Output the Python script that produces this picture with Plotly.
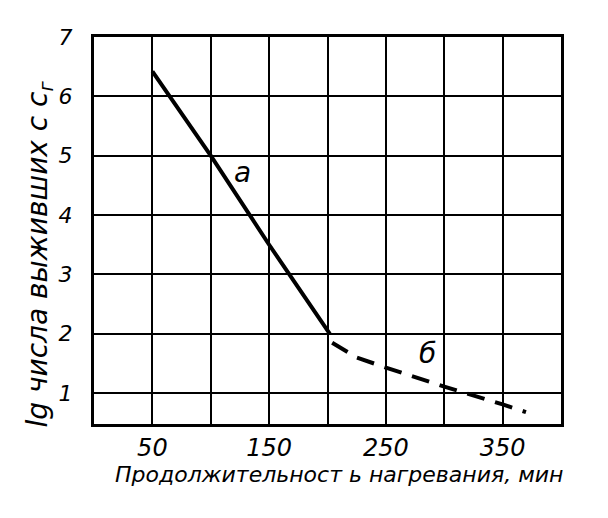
import plotly.graph_objects as go

# Data
curve_a_x = [50, 100, 150, 202]
curve_a_y = [6.42, 5.0, 3.5, 2.0]
curve_b_x = [204, 225, 250, 300, 350, 370]
curve_b_y = [1.85, 1.6, 1.43, 1.11, 0.81, 0.68]

x_tick_vals = [50, 150, 250, 350]
x_tick_text = ["50", "150", "250", "350"]
x_minor_vals = [0, 100, 200, 300, 400]
y_tick_vals = [1, 2, 3, 4, 5, 6, 7]
y_tick_text = ["1", "2", "3", "4", "5", "6", "7"]

x_title = "Продолжительност ь нагревания, мин"
y_title = "lg числа выживших с с<sub>г</sub>"

label_names = ["а", "б"]
label_x = [127, 286]
label_y = [4.72, 1.66]

FONT = "DejaVu Sans, sans-serif"

fig = go.Figure()
fig.add_trace(go.Scatter(x=curve_a_x, y=curve_a_y, mode="lines",
                         line=dict(color="black", width=4), showlegend=False))
fig.add_trace(go.Scatter(x=curve_b_x, y=curve_b_y, mode="lines",
                         line=dict(color="black", width=4, dash="18px,11px"),
                         showlegend=False))

for name, lx, ly in zip(label_names, label_x, label_y):
    fig.add_annotation(x=lx, y=ly, text=name, showarrow=False,
                       font=dict(family=FONT, size=28, color="black", style="italic"))

# axis titles placed as annotations for exact positioning
fig.add_annotation(xref="paper", yref="paper", x=0.525, y=-0.13,
                   text=x_title, showarrow=False, xanchor="center", yanchor="middle",
                   font=dict(family=FONT, size=22, color="black", style="italic"))
fig.add_annotation(xref="paper", yref="paper", x=-0.116, y=0.44,
                   text=y_title, showarrow=False, textangle=-90,
                   xanchor="center", yanchor="middle",
                   font=dict(family=FONT, size=28, color="black", style="italic"))

fig.update_layout(
    width=592, height=502,
    margin=dict(l=86, r=39, t=29, b=86),
    paper_bgcolor="white", plot_bgcolor="white",
    font=dict(family=FONT, color="black", style="italic"),
    xaxis=dict(
        range=[0, 400], tickvals=x_tick_vals, ticktext=x_tick_text,
        showgrid=True, gridcolor="black", gridwidth=2,
        minor=dict(tickvals=x_minor_vals, showgrid=True, gridcolor="black",
                   gridwidth=2, ticks=""),
        showline=True, linecolor="black", linewidth=3, mirror=True,
        ticks="",
        tickfont=dict(size=24, family=FONT, style="italic"),
        zeroline=False, automargin=False,
    ),
    yaxis=dict(
        range=[0.48, 7], tickvals=y_tick_vals, ticktext=y_tick_text,
        showgrid=True, gridcolor="black", gridwidth=2,
        showline=True, linecolor="black", linewidth=3, mirror=True,
        ticks="outside", ticklen=14, tickcolor="white",
        tickfont=dict(size=22, family=FONT, style="italic"),
        zeroline=False, automargin=False,
    ),
)

fig.write_html("out.html")
